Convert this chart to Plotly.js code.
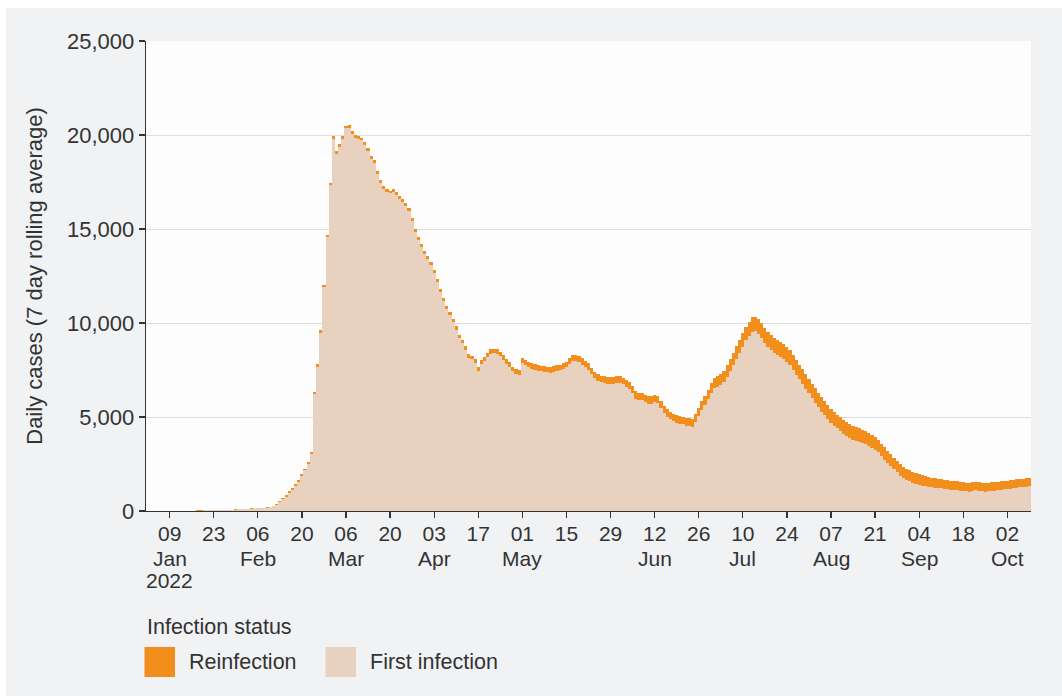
<!DOCTYPE html>
<html>
<head>
<meta charset="utf-8">
<script src="https://cdn.plot.ly/plotly-3.0.1.min.js"></script>
<style>
  html, body { margin: 0; padding: 0; background: #ffffff; }
  #chart { position: absolute; left: 6px; top: 8px; width: 1056px; height: 688px; }
</style>
</head>
<body>
<div id="chart"></div>
<script>
// First day of data (daily bars, one per day)
const startDate = '2022-01-02';

// Reinfection (7 day rolling average), daily from 2 Jan 2022 to 9 Oct 2022
const reinfection = [
  2,2,2,3,3,3,3,3,3,4,
  4,4,4,4,5,5,5,5,6,6,
  6,7,7,7,8,8,9,9,10,10,
  11,12,13,14,15,16,17,18,20,24,30,40,
  55,60,65,70,75,80,85,90,95,100,110,
  115,120,125,130,135,140,140,145,145,150,150,150,
  150,150,150,150,150,150,150,150,150,150,150,150,150,150,150,
  150,150,150,150,155,155,155,155,160,160,160,160,165,165,170,
  170,175,175,180,180,185,190,195,200,205,210,
  215,220,225,230,235,240,245,250,250,255,255,260,265,
  270,270,275,280,280,285,285,290,290,295,300,300,305,310,310,
  315,320,320,325,330,330,335,335,340,340,345,350,350,355,360,360,
  365,370,370,375,380,380,385,390,390,395,
  400,400,400,405,405,405,410,410,410,415,415,420,420,420,
  430,440,450,470,490,510,530,550,570,590,610,630,650,670,690,710,730,750,770,790,
  800,810,810,810,800,800,800,790,790,790,780,
  780,780,770,770,770,760,760,760,750,750,
  750,740,740,740,730,730,730,720,720,720,710,710,700,700,700,690,690,680,670,660,650,640,630,620,
  610,600,590,580,570,560,550,540,530,520,510,500,495,490,485,480,475,470,470,465,465,
  460,460,460,455,455,455,450,450,450,450,450,445,445,445,445,445,440,440,440,440,440
];

// First infection (7 day rolling average), same days
const firstInfection = [
  8,8,10,9,10,11,12,12,13,13,
  14,16,17,18,19,21,23,25,27,30,
  34,37,41,46,50,56,61,69,76,85,
  94,103,113,124,135,144,153,162,175,196,240,320,
  477,615,770,975,1130,1356,1565,1860,2155,2500,3010,
  6215,7680,9485,11910,14565,17320,19790,19005,19355,19780,20350,20380,
  20060,19850,19800,19710,19460,19140,18720,18500,17940,17470,17120,16960,16890,16980,16800,
  16620,16450,16250,15970,15435,14845,14405,14045,13690,13420,13090,12660,12175,11655,11160,
  10750,10425,10055,9640,9180,8915,8590,8155,8060,7865,7470,
  7835,7960,8175,8370,8405,8360,8235,8050,7810,7645,7425,7270,7235,
  7850,7760,7675,7580,7520,7465,7425,7400,7370,7365,7420,7460,7485,7540,7640,
  7835,7970,7980,7915,7790,7670,7515,7295,7070,6930,6855,6810,6780,6755,6780,6800,
  6795,6730,6620,6485,6260,5980,5915,5910,5800,5705,
  5710,5790,5720,5465,5205,5005,4880,4770,4690,4635,4605,4540,4510,4480,
  4720,5060,5380,5650,5960,6290,6520,6610,6710,6880,7130,7440,7740,8100,8410,8740,9070,9330,9530,9550,
  9410,9180,8930,8730,8560,8410,8300,8210,8090,7950,7770,
  7510,7250,7010,6760,6510,6270,6010,5770,5520,5290,
  5090,4890,4700,4530,4390,4260,4120,4010,3890,3800,3740,3680,3620,3560,3460,3350,3230,3120,2920,2720,2550,2370,2210,2060,
  1880,1750,1660,1580,1510,1450,1400,1350,1310,1280,1260,1240,1215,1200,1175,1150,1135,1120,1100,1085,1065,
  1050,1030,1060,1095,1075,1045,1020,1040,1070,1090,1100,1125,1145,1165,1185,1205,1240,1260,1280,1300,1320
];

// X-axis ticks (day numbers), with month and year lines under some of them
const tickDates = ['2022-01-09','2022-01-23','2022-02-06','2022-02-20','2022-03-06','2022-03-20',
  '2022-04-03','2022-04-17','2022-05-01','2022-05-15','2022-05-29','2022-06-12','2022-06-26',
  '2022-07-10','2022-07-24','2022-08-07','2022-08-21','2022-09-04','2022-09-18','2022-10-02'];
const tickLabels = ['09','23','06','20','06','20','03','17','01','15','29','12','26','10','24','07','21','04','18','02'];
const monthDates = ['2022-01-09','2022-02-06','2022-03-06','2022-04-03','2022-05-01','2022-06-12',
  '2022-07-10','2022-08-07','2022-09-04','2022-10-02'];
const monthLabels = ['Jan','Feb','Mar','Apr','May','Jun','Jul','Aug','Sep','Oct'];
const yearDate = '2022-01-09';
const yearLabel = '2022';

const yTicks = [0, 5000, 10000, 15000, 20000, 25000];
const seriesNames = ['Reinfection', 'First infection'];
const legendTitle = 'Infection status';
const yTitle = 'Daily cases (7 day rolling average)';

// build daily date list
const dates = [];
const d0 = new Date(startDate + 'T00:00:00Z');
for (let i = 0; i < firstInfection.length; i++) {
  const d = new Date(d0.getTime() + i * 86400000);
  dates.push(d.toISOString().slice(0, 10));
}

const ORANGE = '#f28e1c';
const TAN = '#e9d1c0';
const TEXT = '#333333';
const FONT = 'Liberation Sans, Arial, Helvetica, sans-serif';

const traces = [
  { type: 'bar', x: dates, y: firstInfection, name: seriesNames[1],
    marker: { color: TAN, line: { width: 0 } }, showlegend: false, hoverinfo: 'skip' },
  { type: 'bar', x: dates, y: reinfection, name: seriesNames[0],
    marker: { color: ORANGE, line: { width: 0 } }, showlegend: false, hoverinfo: 'skip' }
];

// paper-coordinate helpers (plot area 885 x 470 px)
const W = 885, H = 470;
function px(x) { return x / W; }
function py(y) { return -y / H; }

const annotations = [
  { xref: 'paper', yref: 'paper', x: px(-1), y: py(116), xanchor: 'left', yanchor: 'middle',
    text: legendTitle, showarrow: false, font: { family: FONT, size: 21.5, color: TEXT } },
  { xref: 'paper', yref: 'paper', x: px(41), y: py(151), xanchor: 'left', yanchor: 'middle',
    text: seriesNames[0], showarrow: false, font: { family: FONT, size: 21.5, color: TEXT } },
  { xref: 'paper', yref: 'paper', x: px(221.5), y: py(151), xanchor: 'left', yanchor: 'middle',
    text: seriesNames[1], showarrow: false, font: { family: FONT, size: 21.5, color: TEXT } }
];
monthDates.forEach((d, k) => {
  annotations.push({ xref: 'x', yref: 'paper', x: d, y: py(47), xanchor: 'center', yanchor: 'middle',
    text: monthLabels[k], showarrow: false, font: { family: FONT, size: 21, color: TEXT } });
});
annotations.push({ xref: 'x', yref: 'paper', x: yearDate, y: py(69), xanchor: 'center', yanchor: 'middle',
  text: yearLabel, showarrow: false, font: { family: FONT, size: 21, color: TEXT } });

const layout = {
  width: 1056, height: 688,
  margin: { l: 140, r: 31, t: 33, b: 185, pad: 0 },
  paper_bgcolor: '#f1f2f4',
  plot_bgcolor: '#fdfdfd',
  barmode: 'stack',
  bargap: 0,
  showlegend: false,
  font: { family: FONT, size: 21, color: TEXT },
  xaxis: {
    type: 'date',
    range: ['2022-01-01 12:00', '2022-10-09 12:00'],
    tickmode: 'array', tickvals: tickDates, ticktext: tickLabels,
    ticks: 'outside', ticklen: 6, tickwidth: 1.3, tickcolor: TEXT,
    ticklabelstandoff: -3,
    showline: true, linecolor: TEXT, linewidth: 1.3,
    showgrid: false, zeroline: false,
    tickfont: { family: FONT, size: 21, color: TEXT }
  },
  yaxis: {
    range: [0, 25000],
    tickmode: 'array', tickvals: yTicks, tickformat: ',d',
    ticks: 'outside', ticklen: 6, tickwidth: 1.3, tickcolor: TEXT,
    showline: true, linecolor: TEXT, linewidth: 1.3,
    showgrid: true, gridcolor: '#dedede', gridwidth: 1,
    zeroline: false,
    tickfont: { family: FONT, size: 22, color: TEXT },
    title: { text: yTitle, font: { family: FONT, size: 22, color: TEXT }, standoff: 18 }
  },
  shapes: [
    { type: 'rect', xref: 'paper', yref: 'paper', x0: px(-1.5), x1: px(29), y0: py(166), y1: py(136),
      fillcolor: ORANGE, line: { width: 0 } },
    { type: 'rect', xref: 'paper', yref: 'paper', x0: px(179.5), x1: px(210), y0: py(166), y1: py(136),
      fillcolor: TAN, line: { width: 0 } }
  ],
  annotations: annotations
};

Plotly.newPlot('chart', traces, layout, { displayModeBar: false, staticPlot: true });
</script>
</body>
</html>
